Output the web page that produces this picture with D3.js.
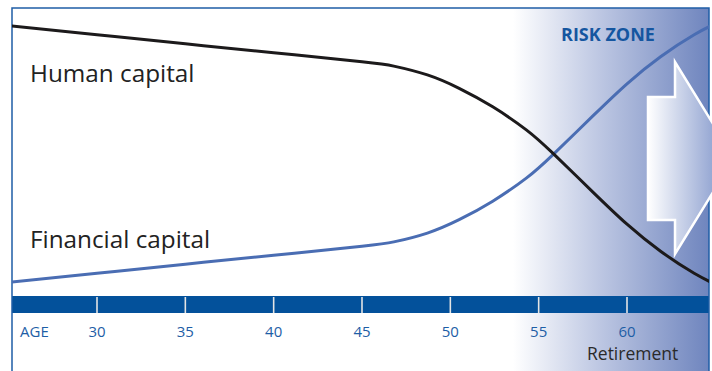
<!DOCTYPE html>
<html><head><meta charset="utf-8">
<script src="https://cdn.jsdelivr.net/npm/d3@7"></script>
<style>html,body{margin:0;padding:0;background:#fff}svg{display:block}</style>
</head><body>
<svg id="c" width="712" height="371"></svg>
<script>
const ages = [25, 30, 35, 40, 45, 46.8, 48.7, 50.5, 52.4, 54.3, 55.8, 58.1, 60, 61.9, 63.8, 65];
const humanCapital = [97.9, 94.5, 91.1, 87.8, 84.4, 82.8, 79.5, 74.5, 67.6, 59.0, 50.3, 35.6, 23.8, 13.7, 5.5, 1.4];
const financialCapital = [2.1, 5.5, 8.9, 12.2, 15.6, 17.2, 20.5, 25.5, 32.4, 41.0, 49.7, 64.4, 76.2, 86.3, 94.5, 98.6];
const tickAges = [30, 35, 40, 45, 50, 55, 60];
const tickLabels = ["30", "35", "40", "45", "50", "55", "60"];
const seriesLabels = ["Human capital", "Financial capital"];

(function () {
const svg = d3.select("#c");
const W = 712, H = 371;
const L = 12, R = 709, T = 8;
const x = d3.scaleLinear().domain([30, 60]).range([97, 627]);
const y = d3.scaleLinear().domain([0, 100]).range([288, 20]);

const defs = svg.append("defs");
const g1 = defs.append("linearGradient").attr("id", "risk").attr("gradientUnits", "userSpaceOnUse")
  .attr("x1", 513).attr("x2", R).attr("y1", 0).attr("y2", 0);
g1.append("stop").attr("offset", 0).attr("stop-color", "#ffffff");
g1.append("stop").attr("offset", 0.45).attr("stop-color", "#bcc6e2");
g1.append("stop").attr("offset", 1).attr("stop-color", "#6f85be");
const g2 = defs.append("linearGradient").attr("id", "arrowg").attr("gradientUnits", "userSpaceOnUse")
  .attr("x1", 648).attr("x2", 712).attr("y1", 0).attr("y2", 0);
g2.append("stop").attr("offset", 0).attr("stop-color", "#ffffff");
g2.append("stop").attr("offset", 1).attr("stop-color", "#98a9d4");
defs.append("clipPath").attr("id", "plot").append("rect")
  .attr("x", L).attr("y", T).attr("width", R - L).attr("height", H - T);

svg.append("rect").attr("x", 513).attr("y", T).attr("width", R - 513).attr("height", H - T)
  .attr("fill", "url(#risk)");

svg.append("rect").attr("x", L).attr("y", 296).attr("width", R - L).attr("height", 17)
  .attr("fill", "#03519b");
svg.append("g").selectAll("line").data(tickAges).join("line")
  .attr("x1", d => x(d)).attr("x2", d => x(d)).attr("y1", 297).attr("y2", 313)
  .attr("stroke", "#e4e4e4").attr("stroke-width", 1.6);

svg.append("path")
  .attr("d", `M${L},${H}V${T}H${R}V${H}`)
  .attr("fill", "none").attr("stroke", "#1f5da6").attr("stroke-width", 1.5);

const arrowPts = [[648, 97], [675, 97], [675, 62], [734, 158], [675, 254], [675, 220], [648, 220]];
svg.append("path").attr("d", d3.line()(arrowPts) + "Z")
  .attr("fill", "url(#arrowg)").attr("stroke", "#ffffff").attr("stroke-width", 2.5)
  .attr("stroke-linejoin", "miter");

const line = d3.line().x(d => x(d[0])).y(d => y(d[1])).curve(d3.curveNatural);
const plot = svg.append("g").attr("clip-path", "url(#plot)");
plot.append("path").attr("d", line(ages.map((a, i) => [a, financialCapital[i]])))
  .attr("fill", "none").attr("stroke", "#4a6db3").attr("stroke-width", 3);
plot.append("path").attr("d", line(ages.map((a, i) => [a, humanCapital[i]])))
  .attr("fill", "none").attr("stroke", "#1c1a1b").attr("stroke-width", 3);

const font = "'Open Sans', 'Noto Sans', sans-serif";
svg.append("text").attr("x", 30).attr("y", 82).text(seriesLabels[0])
  .attr("font-family", font).attr("font-size", 24.3).attr("fill", "#222");
svg.append("text").attr("x", 30).attr("y", 248).text(seriesLabels[1])
  .attr("font-family", font).attr("font-size", 24.3).attr("fill", "#222");

svg.append("text").attr("x", 20).attr("y", 337).text("AGE")
  .attr("font-family", font).attr("font-size", 15).attr("fill", "#1e5ea6");
svg.append("g").selectAll("text").data(tickAges).join("text")
  .attr("x", d => x(d)).attr("y", 337).attr("text-anchor", "middle")
  .text((d, i) => tickLabels[i])
  .attr("font-family", font).attr("font-size", 15).attr("fill", "#1e5ea6");
svg.append("text").attr("x", 587).attr("y", 360).text("Retirement")
  .attr("font-family", font).attr("font-size", 17.5).attr("fill", "#2a2a2a");
svg.append("text").attr("x", 561).attr("y", 41).text("RISK ZONE")
  .attr("font-family", font).attr("font-size", 18).attr("font-weight", "bold").attr("fill", "#1556a0");
})();
</script>
</body></html>
